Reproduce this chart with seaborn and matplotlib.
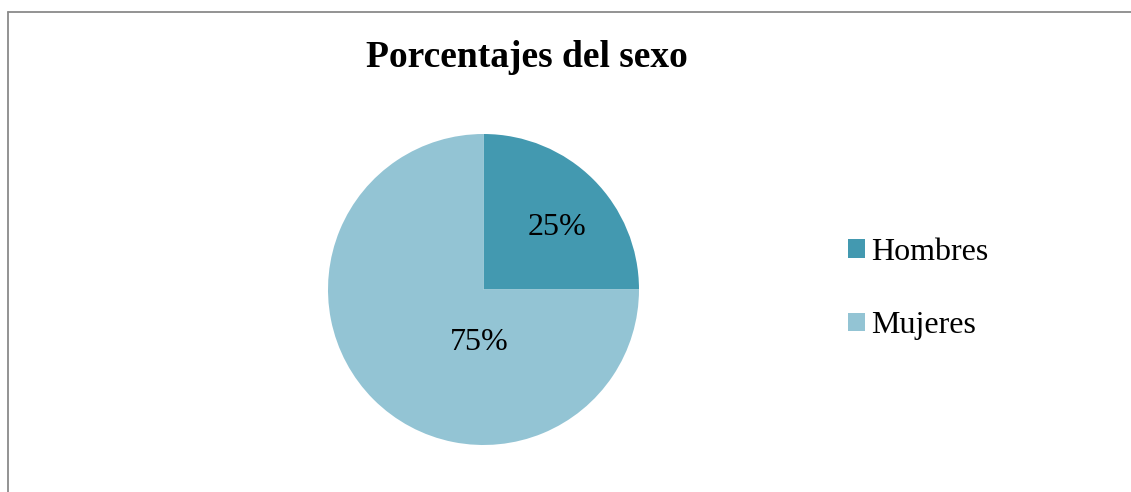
import matplotlib
matplotlib.use("Agg")
import matplotlib.pyplot as plt
from matplotlib.lines import Line2D
import seaborn as sns

# Data
categories = ["Hombres", "Mujeres"]
percentages = [25, 75]
colors = ["#4399B0", "#93C4D4"]
title = "Porcentajes del sexo"

W, H = 1131, 492

sns.set_theme(style="white")
plt.rcParams['font.family'] = ['Liberation Serif', 'DejaVu Serif']
plt.rcParams['text.color'] = 'black'

fig = plt.figure(figsize=(W / 100, H / 100), dpi=100)
fig.patch.set_facecolor("white")

# pie axes: centre ~(483.5, 289.5) px, radius ~155.5 px
cx, cy, r = 483.5, 289.5, 155.5
ax = fig.add_axes([(cx - r) / W, (H - cy - r) / H, 2 * r / W, 2 * r / H])

wedges, texts, autotexts = ax.pie(
    percentages, colors=colors, startangle=90, counterclock=False,
    autopct='%1.0f%%', radius=1.0,
    textprops=dict(fontsize=23, color="black"),
    wedgeprops=dict(linewidth=0))
ax.set_xlim(-1, 1)
ax.set_ylim(-1, 1)
ax.set_aspect("equal")
ax.axis("off")

# Excel-like label placement
label_pos = [(0.473, 0.350), (-0.027, -0.389)]
for t, (x, y) in zip(autotexts, label_pos):
    t.set_position((x, y))
    t.set_ha("center")
    t.set_va("baseline")

fig.text(526.5 / W, 1 - 67 / H, title, ha="center", va="baseline",
         fontsize=27, fontweight="bold", color="black")

leg = fig.legend(wedges, categories, loc="center left",
                 bbox_to_anchor=(848 / W, 1 - 289 / H),
                 frameon=False, fontsize=23, borderpad=0, borderaxespad=0,
                 handlelength=0.53, handleheight=0.53, handletextpad=0.2,
                 labelspacing=1.4, labelcolor="black")

# chart border (top and left visible)
fig.add_artist(Line2D([7.5 / W, 7.5 / W], [0, 1 - 11.8 / H],
                      color="#8a8a8a", linewidth=1.3, transform=fig.transFigure))
fig.add_artist(Line2D([7.5 / W, 1], [1 - 11.8 / H, 1 - 11.8 / H],
                      color="#8a8a8a", linewidth=1.3, transform=fig.transFigure))

fig.savefig("out.png", dpi=100, facecolor="white")
